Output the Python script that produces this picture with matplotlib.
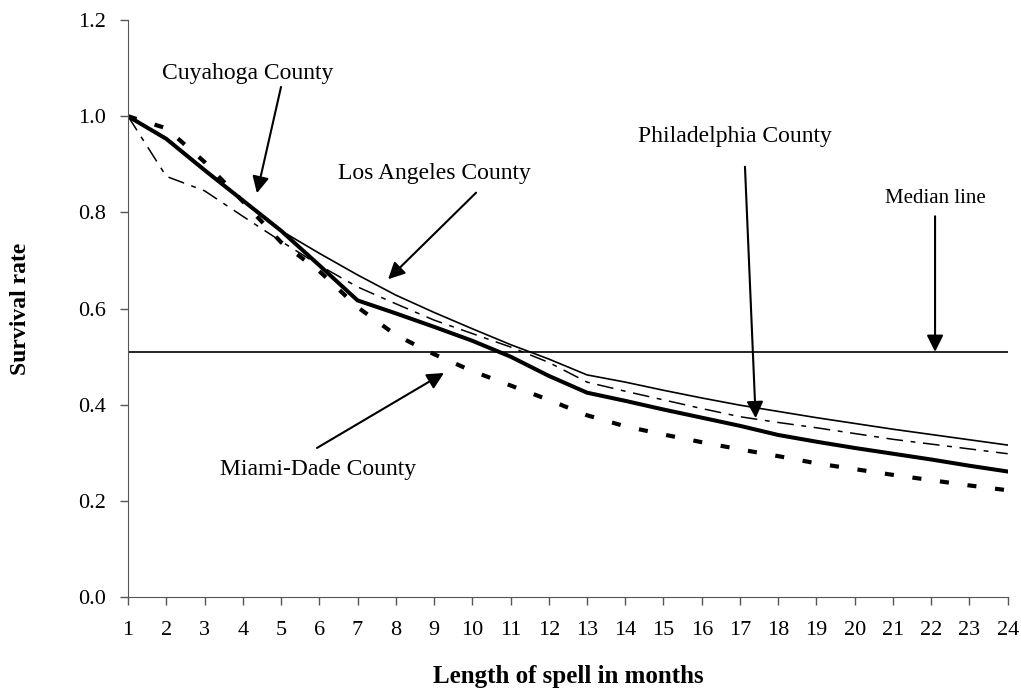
import matplotlib
matplotlib.use("Agg")
import matplotlib.pyplot as plt

plt.rcParams["font.family"] = ["Liberation Serif", "DejaVu Serif"]
plt.rcParams["lines.scale_dashes"] = False

# survival rate by length of spell (months)
months = list(range(1, 25))
cuyahoga = [1.0, 0.953, 0.888, 0.825, 0.762, 0.690, 0.617, 0.590, 0.562, 0.533, 0.500, 0.460,
            0.425, 0.408, 0.390, 0.373, 0.356, 0.337, 0.323, 0.310, 0.298, 0.286, 0.273, 0.261]
los_angeles = [1.0, 0.955, 0.890, 0.825, 0.762, 0.715, 0.670, 0.628, 0.592, 0.558, 0.525, 0.495,
               0.462, 0.447, 0.430, 0.414, 0.399, 0.386, 0.373, 0.361, 0.349, 0.338, 0.327, 0.316]
philadelphia = [1.0, 0.875, 0.845, 0.792, 0.740, 0.690, 0.645, 0.610, 0.576, 0.548, 0.520, 0.488,
                0.447, 0.428, 0.410, 0.392, 0.375, 0.363, 0.352, 0.340, 0.328, 0.318, 0.308, 0.298]
miami_dade = [1.0, 0.975, 0.905, 0.823, 0.738, 0.678, 0.603, 0.545, 0.505, 0.470, 0.440, 0.410,
              0.378, 0.355, 0.338, 0.322, 0.307, 0.293, 0.278, 0.266, 0.254, 0.243, 0.232, 0.222]
median_level = 0.51

y_ticks = [0.0, 0.2, 0.4, 0.6, 0.8, 1.0, 1.2]

fig = plt.figure(figsize=(10.21, 6.94), dpi=100)
ax = fig.add_axes([0.1254, 0.1398, 0.8616, 0.8312])

ax.plot(months, los_angeles, color="black", lw=1.2)
ax.plot(months, philadelphia, color="black", lw=1.1, dashes=(12, 5.5, 3.5, 5.5))
ax.plot(months, miami_dade, color="black", lw=3.0, dashes=(6.5, 13.5), dash_capstyle="butt")
ax.plot(months, cuyahoga, color="black", lw=2.9, solid_joinstyle="miter")
ax.plot([months[0], months[-1]], [median_level, median_level], color="black", lw=1.2)

ax.set_xlim(1, 24)
ax.set_ylim(0, 1.2)
ax.set_xticks(months)
ax.set_yticks(y_ticks)
ax.set_yticklabels([f"{v:.1f}" for v in y_ticks])
ax.tick_params(labelsize=16, length=6, width=1, color="#555555")
ax.tick_params(axis="x", pad=11)
ax.tick_params(axis="y", pad=10)
for side in ("top", "right"):
    ax.spines[side].set_visible(False)
for side in ("left", "bottom"):
    ax.spines[side].set_color("#555555")

ax.set_xlabel("Length of spell in months", fontsize=18, fontweight="bold", labelpad=18)
ax.set_ylabel("Survival rate", fontsize=17, fontweight="bold", labelpad=34)

arrow = dict(arrowstyle="-|>", color="black", lw=1.5, mutation_scale=25,
             shrinkA=0, shrinkB=0)

ax.text(4.14, 1.09, "Cuyahoga County", fontsize=17, ha="center", va="center")
ax.annotate("", xy=(4.37, 0.84), xytext=(5.0, 1.061), arrowprops=arrow)

ax.text(9.02, 0.88, "Los Angeles County", fontsize=17, ha="center", va="center")
ax.annotate("", xy=(7.8, 0.661), xytext=(10.1, 0.841), arrowprops=arrow)

ax.text(16.87, 0.957, "Philadelphia County", fontsize=17, ha="center", va="center")
ax.annotate("", xy=(17.41, 0.372), xytext=(17.13, 0.895), arrowprops=arrow)

ax.text(22.1, 0.828, "Median line", fontsize=15, ha="center", va="center")
ax.annotate("", xy=(22.1, 0.51), xytext=(22.1, 0.792), arrowprops=arrow)

ax.text(5.97, 0.266, "Miami-Dade County", fontsize=17, ha="center", va="center")
ax.annotate("", xy=(9.26, 0.466), xytext=(5.94, 0.31), arrowprops=arrow)

fig.savefig("out.png", dpi=100)
